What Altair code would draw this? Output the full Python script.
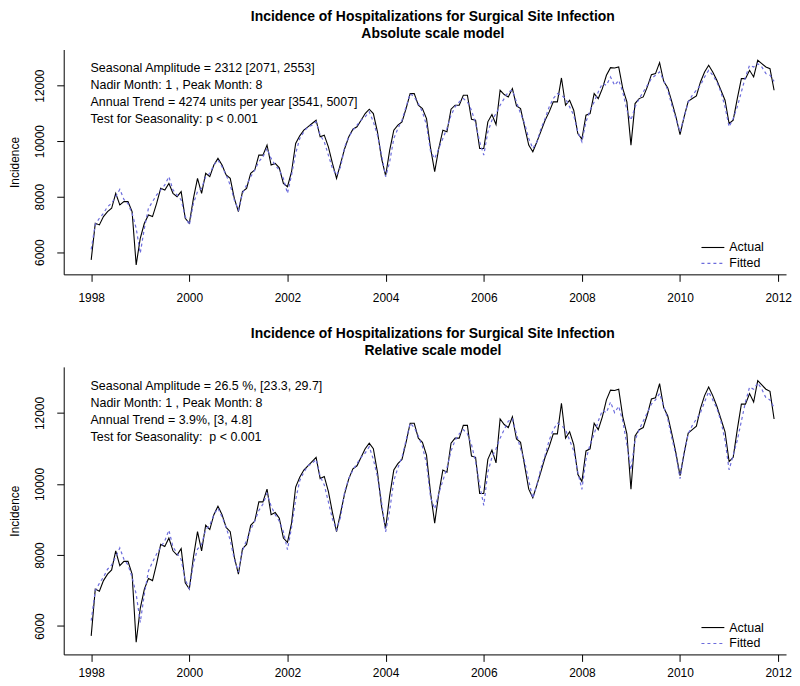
import altair as alt
import pandas as pd

FONT = "Liberation Sans"

start_year = 1998
n_months = 168

actual = [
    5723, 7041, 6981, 7280, 7460, 7580, 8119, 7700, 7820, 7820, 7460, 5543,
    6500, 7041, 7340, 7280, 7760, 8299, 8239, 8478, 8119, 7999, 8179, 7220,
    7041, 7940, 8658, 8119, 8838, 8718, 9137, 9377, 9137, 8778, 8658, 7940,
    7460, 8179, 8299, 8838, 8958, 9497, 9496, 9855, 9136, 9196, 9040, 8477,
    8357, 8897, 9915, 10190, 10394, 10514, 10634, 10753, 10154, 10214, 9795, 9196,
    8657, 9196, 9735, 10154, 10430, 10514, 10753, 10993, 11149, 10993, 10334, 9376,
    8753, 9675, 10394, 10574, 10694, 11173, 11712, 11712, 11293, 11173, 10813, 9735,
    8900, 9735, 10394, 10334, 11149, 11293, 11293, 11652, 11652, 10789, 10753, 9735,
    9735, 10694, 10957, 10597, 11832, 11676, 11592, 11892, 11269, 11173, 10514, 9855,
    9615, 9975, 10358, 10753, 11053, 11412, 11412, 12275, 11293, 11472, 11113, 10274,
    10070, 10933, 10993, 11712, 11532, 11892, 12371, 12646, 12634, 12670, 11892, 11412,
    9855, 11352, 11532, 11592, 11952, 12395, 12431, 12826, 12155, 11916, 11412, 10873,
    10238, 10873, 11436, 11532, 11628, 12131, 12490, 12730, 12490, 12191, 11832, 11472,
    10634, 10753, 11532, 12251, 12251, 12550, 12311, 12910, 12790, 12670, 12610, 11832,
]

fitted_abs = [
    6100, 7000, 7220, 7400, 7640, 7760, 8000, 8263, 7900, 7750, 7400, 6860,
    5960, 6860, 7580, 7820, 8060, 8240, 8420, 8718, 8240, 8060, 7880, 7280,
    6980, 7760, 8180, 8300, 8718, 8838, 9137, 9317, 9077, 8778, 8418, 7880,
    7520, 8119, 8418, 8718, 8958, 9257, 9436, 9735, 9376, 9136, 8956, 8657,
    8118, 8777, 9556, 10095, 10334, 10514, 10574, 10694, 10214, 9975, 9496, 9016,
    8777, 9076, 9795, 10154, 10394, 10574, 10753, 10873, 11053, 10694, 10214, 9496,
    8717, 9256, 10095, 10454, 10753, 11233, 11712, 11592, 11353, 11053, 10574, 9615,
    9376, 9735, 10095, 10454, 10933, 11233, 11412, 11532, 11412, 11113, 10634, 9975,
    9496, 10334, 10753, 10993, 11293, 11532, 11772, 11832, 11412, 10993, 10634, 10095,
    9735, 9975, 10454, 10813, 11233, 11532, 11712, 11652, 11532, 11233, 10933, 10334,
    9975, 10694, 11113, 11412, 11772, 12071, 12011, 12311, 12011, 12191, 11772, 11113,
    10754, 11233, 11532, 11772, 12011, 12251, 12371, 12490, 12191, 11832, 11293, 10813,
    10334, 10873, 11412, 11652, 11832, 12011, 12311, 12550, 12371, 12131, 11772, 11233,
    10514, 10813, 11233, 11772, 12311, 12730, 12670, 12790, 12670, 12431, 12371, 12150,
]

fitted_rel = [
    6150, 7000, 7200, 7380, 7600, 7720, 7950, 8200, 7880, 7720, 7380, 6900,
    6100, 6900, 7550, 7800, 8030, 8220, 8400, 8700, 8230, 8050, 7870, 7300,
    7050, 7760, 8170, 8300, 8718, 8838, 9137, 9317, 9077, 8778, 8418, 7880,
    7520, 8119, 8418, 8718, 8958, 9257, 9436, 9735, 9376, 9136, 8956, 8657,
    8150, 8777, 9556, 10095, 10334, 10514, 10574, 10694, 10214, 9975, 9496, 9016,
    8700, 9076, 9795, 10154, 10394, 10574, 10753, 10873, 11053, 10694, 10214, 9496,
    8650, 9256, 10095, 10454, 10753, 11233, 11712, 11592, 11353, 11053, 10574, 9615,
    9300, 9735, 10095, 10454, 10933, 11233, 11412, 11532, 11412, 11113, 10634, 9975,
    9400, 10334, 10753, 10993, 11293, 11532, 11772, 11832, 11412, 10993, 10634, 10095,
    9600, 9975, 10454, 10813, 11233, 11532, 11712, 11652, 11532, 11233, 10933, 10334,
    9850, 10694, 11113, 11412, 11772, 12071, 12011, 12311, 12011, 12191, 11772, 11113,
    10400, 11233, 11532, 11772, 12011, 12251, 12371, 12550, 12191, 11832, 11293, 10813,
    10150, 10873, 11412, 11652, 11832, 12011, 12311, 12600, 12371, 12131, 11772, 11233,
    10400, 10813, 11233, 11772, 12311, 12730, 12670, 12850, 12670, 12431, 12371, 12150,
]

x_ticks = [1998, 2000, 2002, 2004, 2006, 2008, 2010, 2012]
y_ticks = [6000, 8000, 10000, 12000]

title_main = "Incidence of Hospitalizations for Surgical Site Infection"
subtitle_top = "Absolute scale model"
subtitle_bot = "Relative scale model"

notes_top = [
    "Seasonal Amplitude = 2312 [2071, 2553]",
    "Nadir Month: 1 , Peak Month: 8",
    "Annual Trend = 4274 units per year [3541, 5007]",
    "Test for Seasonality: p < 0.001",
]
notes_bot = [
    "Seasonal Amplitude = 26.5 %, [23.3, 29.7]",
    "Nadir Month: 1 , Peak Month: 8",
    "Annual Trend = 3.9%, [3, 4.8]",
    "Test for Seasonality:\u00a0 p < 0.001",
]
legend_labels = ["Actual", "Fitted"]
y_title = "Incidence"

t = [start_year + m / 12 for m in range(n_months)]

W = 726
XDOM = [1997.44, 2012.16]
FIT_COLOR = "#6c6cdc"


def panel(fitted, subtitle, notes, H, ydom, note_y, lab_pad):
    df = pd.DataFrame({"t": t, "Actual": actual, "Fitted": fitted})
    xs = alt.Scale(domain=XDOM, nice=False, zero=False)
    ys = alt.Scale(domain=ydom, nice=False, zero=False)
    xax = alt.Axis(values=x_ticks, format="d", domain=True, domainColor="black",
                   domainWidth=1, grid=False,
                   ticks=True, tickSize=7, tickColor="black", tickWidth=1,
                   labels=True, labelFont=FONT, labelFontSize=12, labelColor="black",
                   labelPadding=lab_pad, labelFlush=False, title=None)
    yax = alt.Axis(values=y_ticks, format="d", domain=True, domainColor="black",
                   domainWidth=1, grid=False,
                   ticks=True, tickSize=7, tickColor="black", tickWidth=1,
                   labels=True, labelAngle=270, labelAlign="center", labelBaseline="bottom",
                   labelPadding=10, labelFont=FONT, labelFontSize=12,
                   labelColor="black", title=y_title, titleFont=FONT,
                   titleFontSize=12, titleFontWeight="normal", titleColor="black",
                   titlePadding=12)
    base = alt.Chart(df)
    act = base.mark_line(color="black", strokeWidth=1.1).encode(
        x=alt.X("t:Q", scale=xs, axis=xax),
        y=alt.Y("Actual:Q", scale=ys, axis=yax),
    )
    fit = base.mark_line(color=FIT_COLOR, strokeWidth=1.2, strokeDash=[3, 3]).encode(
        x=alt.X("t:Q", scale=xs, axis=xax),
        y=alt.Y("Fitted:Q", scale=ys, axis=yax),
    )
    one = pd.DataFrame({"k": [0]})
    note = alt.Chart(one).mark_text(
        text=notes, align="left", baseline="middle", font=FONT, fontSize=12.5,
        lineHeight=17, color="black").encode(x=alt.value(27), y=alt.value(note_y))
    leg_rule_a = alt.Chart(one).mark_rule(color="black", strokeWidth=1.1).encode(
        x=alt.value(641), x2=alt.value(664), y=alt.value(H - 27))
    leg_rule_f = alt.Chart(one).mark_rule(color=FIT_COLOR, strokeWidth=1.2,
                                          strokeDash=[3, 3]).encode(
        x=alt.value(641), x2=alt.value(664), y=alt.value(H - 11))
    leg_text = alt.Chart(one).mark_text(
        text=legend_labels, align="left", baseline="middle", font=FONT,
        fontSize=12.5, lineHeight=16, color="black").encode(
        x=alt.value(669), y=alt.value(H - 27))
    return alt.layer(act, fit, note, leg_rule_a, leg_rule_f, leg_text).properties(
        width=W, height=H,
        title=alt.TitleParams(text=[title_main, subtitle], font=FONT, fontSize=14,
                              fontWeight="bold", anchor="middle", lineHeight=17,
                              offset=9, dx=8, color="black"),
    )


top = panel(fitted_abs, subtitle_top, notes_top, 226, [5200, 13300], 19, 11)
bot = panel(fitted_rel, subtitle_bot, notes_bot, 289, [5200, 13300], 19, 6)

chart = alt.vconcat(top, bot, spacing=24).properties(
    padding=0, background="white").configure_view(stroke=None)

chart.save("out.html", embed_options={"renderer": "svg", "actions": False})
